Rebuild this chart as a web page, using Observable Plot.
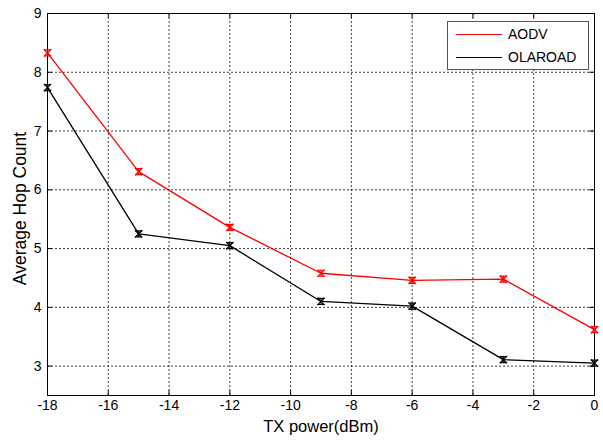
<!DOCTYPE html>
<html><head><meta charset="utf-8">
<script src="https://cdn.jsdelivr.net/npm/d3@7"></script>
<script src="https://cdn.jsdelivr.net/npm/@observablehq/plot@0.6"></script>
<style>
body{margin:0;background:#fff;font-family:"Liberation Sans",Arial,sans-serif;}
#wrap{position:relative;width:603px;height:440px;}
#legend{position:absolute;left:447px;top:21px;width:142px;height:49px;border:1px solid #555;background:#fff;box-sizing:border-box;font-size:14px;}
.item{position:absolute;left:8px;height:16px;display:flex;align-items:center;white-space:nowrap;}
.item span.l{display:inline-block;width:46px;height:0;border-top:1.3px solid;margin-right:6px;}
</style></head><body>
<div id="wrap"><div id="legend"></div></div>
<script>
const txPower = [-18, -15, -12, -9, -6, -3, 0];
const aodv = [8.33, 6.31, 5.36, 4.58, 4.46, 4.48, 3.62];
const olaroad = [7.74, 5.25, 5.05, 4.10, 4.02, 3.11, 3.05];
const seriesNames = ["AODV", "OLAROAD"];
const seriesColors = ["#ff0000", "#000000"];
const xTicks = [-18, -16, -14, -12, -10, -8, -6, -4, -2, 0];
const yTicks = [3, 4, 5, 6, 7, 8, 9];

const data = [];
[aodv, olaroad].forEach((vals, si) => vals.forEach((v, i) => data.push({x: txPower[i], y: v, s: seriesNames[si]})));

// small error-bar style symbol (vertical bar with caps)
const ibeam = {
  draw(ctx, size) {
    const h = Math.sqrt(size) * 0.5, w = Math.sqrt(size) * 0.55;
    ctx.moveTo(-w, -h); ctx.lineTo(w, -h);
    ctx.moveTo(-w, h); ctx.lineTo(w, h);
    ctx.moveTo(0, -h); ctx.lineTo(0, h);
  }
};

const fmt = d => String(d);
const chart = Plot.plot({
  width: 603, height: 440,
  marginLeft: 47, marginRight: 9, marginTop: 13, marginBottom: 45,
  style: {fontFamily: "Liberation Sans, Arial, sans-serif", fontSize: "14px", color: "#000", background: "#fff"},
  x: {type: "linear", domain: [-18, 0], ticks: xTicks, tickFormat: fmt},
  y: {type: "linear", domain: [2.5, 9], ticks: yTicks, tickFormat: fmt},
  color: {domain: seriesNames, range: seriesColors},
  marks: [
    Plot.gridX(xTicks, {stroke: "#000", strokeOpacity: 0.75, strokeDasharray: "2,2"}),
    Plot.gridY(yTicks, {stroke: "#000", strokeOpacity: 0.75, strokeDasharray: "2,2"}),
    Plot.axisX(xTicks, {tickSize: 0, tickPadding: 5, label: null, fontSize: 14, tickFormat: fmt}),
    Plot.axisY(yTicks, {tickSize: 0, tickPadding: 6, label: null, fontSize: 14, tickFormat: fmt}),
    Plot.ruleX(xTicks, {x: d => d, y1: 2.5, y2: 2.58, stroke: "#000"}),
    Plot.ruleX(xTicks, {x: d => d, y1: 8.92, y2: 9, stroke: "#000"}),
    Plot.ruleY(yTicks, {y: d => d, x1: -18, x2: -17.84, stroke: "#000"}),
    Plot.ruleY(yTicks, {y: d => d, x1: -0.16, x2: 0, stroke: "#000"}),
    Plot.frame({stroke: "#000"}),
    Plot.line(data, {x: "x", y: "y", z: "s", stroke: "s", strokeWidth: 1.3}),
    Plot.dot(data, {x: "x", y: "y", stroke: "s", symbol: "times", r: 3.4, strokeWidth: 1.3}),
    Plot.dot(data, {x: "x", y: "y", stroke: "s", symbol: ibeam, r: 3.4, strokeWidth: 1.2}),
    Plot.text(["TX power(dBm)"], {frameAnchor: "bottom", textAnchor: "middle", lineAnchor: "middle", dy: 31, text: d => d, fontSize: 16.5}),
    Plot.text(["Average Hop Count"], {frameAnchor: "left", textAnchor: "middle", lineAnchor: "middle", dx: -27, dy: 4, rotate: -90, text: d => d, fontSize: 17.5})
  ]
});
document.getElementById("wrap").prepend(chart);
const leg = document.getElementById("legend");
seriesNames.forEach((n, i) => {
  const d = document.createElement("div");
  d.className = "item";
  d.style.top = (4 + i * 23) + "px";
  d.innerHTML = `<span class="l" style="border-color:${seriesColors[i]}"></span><span>${n}</span>`;
  leg.appendChild(d);
});
</script>
</body></html>
